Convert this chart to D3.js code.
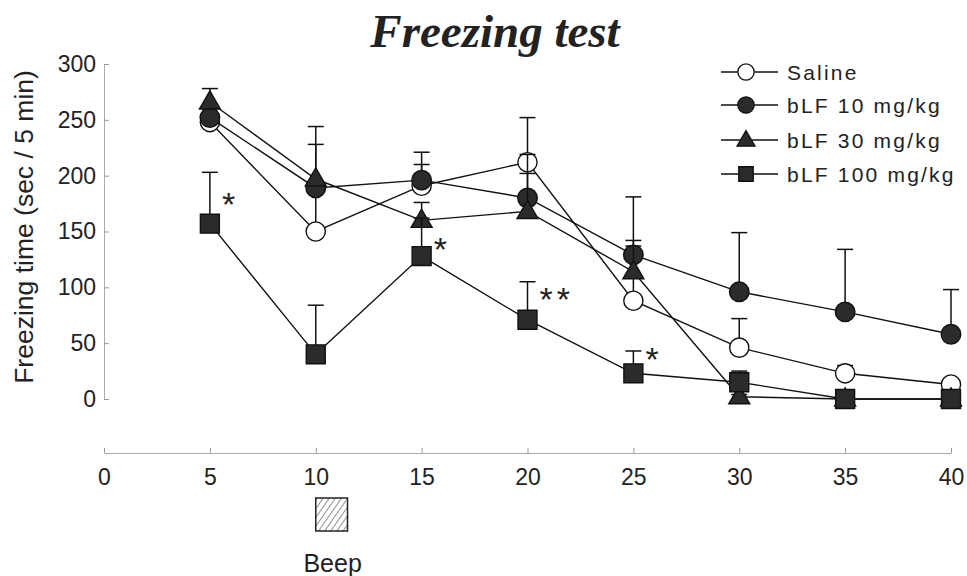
<!DOCTYPE html>
<html>
<head>
<meta charset="utf-8">
<script src="https://cdn.jsdelivr.net/npm/d3@7"></script>
<style>
  body { margin: 0; background: #fff; }
  svg { display: block; }
</style>
</head>
<body>
<div id="d3-container"></div>
<script>
/**
 * DATA
 * */
const times = [5, 10, 15, 20, 25, 30, 35, 40];

const salineMean = [248, 150, 191, 212, 88, 46, 23, 13];
const salineSem = [8, 78, 19, 40, 49, 26, 7, 0];

const bLF10Mean = [252, 189, 196, 180, 129, 96, 78, 58];
const bLF10Sem = [8, 6, 25, 22, 52, 53, 56, 40];

const bLF30Mean = [266, 197, 160, 168, 114, 2, 0, 0];
const bLF30Sem = [12, 47, 16, 51, 28, 2, 0, 0];

const bLF100Mean = [157, 40, 128, 71, 23, 15, 0, 0];
const bLF100Sem = [46, 44, 34, 34, 20, 10, 0, 0];

// significance marks for bLF 100 mg/kg, and the level (sec) each one sits at
const sigTimes = [5, 15, 20, 25];
const sigMarks = ["*", "*", "**", "*"];
const sigLevel = [178, 138, 93, 39];

const xTicks = [0, 5, 10, 15, 20, 25, 30, 35, 40];
const yTicks = [0, 50, 100, 150, 200, 250, 300];

const seriesNames = ["Saline", "bLF 10 mg/kg", "bLF 30 mg/kg", "bLF 100 mg/kg"];

// beep stimulus (min)
const beepStart = 10, beepEnd = 11.5;

/**
 * CONSTANTS AND GLOBALS
 * */
const width = 967,
  height = 576;

const series = [
  { name: seriesNames[0], mean: salineMean, sem: salineSem, shape: d3.symbolCircle, fill: "#fff", size: 290, lsize: 210 },
  { name: seriesNames[1], mean: bLF10Mean, sem: bLF10Sem, shape: d3.symbolCircle, fill: "#2b2b2b", size: 300, lsize: 210 },
  { name: seriesNames[2], mean: bLF30Mean, sem: bLF30Sem, shape: d3.symbolTriangle, fill: "#2b2b2b", size: 190, lsize: 140 },
  { name: seriesNames[3], mean: bLF100Mean, sem: bLF100Sem, shape: d3.symbolSquare, fill: "#2b2b2b", size: 360, lsize: 210 }
];

const x = d3.scaleLinear().domain([0, 40]).range([104, 951]);
const y = d3.scaleLinear().domain([0, 300]).range([399, 64]);

const svg = d3.select("#d3-container")
  .append("svg")
  .attr("width", width)
  .attr("height", height)
  .style("font-family", "'Liberation Sans', Arial, sans-serif");

// hatch for the beep box
svg.append("defs")
  .append("pattern")
  .attr("id", "hatch")
  .attr("patternUnits", "userSpaceOnUse")
  .attr("width", 5)
  .attr("height", 5)
  .attr("patternTransform", "rotate(35)")
  .append("line")
  .attr("x1", 0).attr("y1", 0)
  .attr("x2", 0).attr("y2", 5)
  .attr("stroke", "#444")
  .attr("stroke-width", 1.2);

// title
svg.append("text")
  .attr("x", 495)
  .attr("y", 47)
  .attr("text-anchor", "middle")
  .style("font-family", "'Liberation Serif', 'Times New Roman', serif")
  .style("font-weight", "bold")
  .style("font-style", "italic")
  .style("font-size", "47px")
  .attr("fill", "#222")
  .text("Freezing test");

/**
 * AXES
 * */
const yAxis = svg.append("g")
  .attr("transform", `translate(${x(0)},0)`)
  .call(d3.axisLeft(y).tickValues(yTicks).tickSize(-5).tickSizeOuter(0).tickPadding(8));

const xAxis = svg.append("g")
  .attr("transform", "translate(0,453)")
  .call(d3.axisBottom(x).tickValues(xTicks).tickSize(-5).tickSizeOuter(0).tickPadding(16));

[yAxis, xAxis].forEach(g => {
  g.select(".domain").attr("stroke", "#aaa").attr("stroke-width", 1);
  g.selectAll(".tick line").attr("stroke", "#999");
  g.selectAll(".tick text")
    .attr("fill", "#222")
    .style("font-size", "23px")
    .style("font-family", "'Liberation Sans', Arial, sans-serif");
});

svg.append("text")
  .attr("transform", "translate(33,227) rotate(-90)")
  .attr("text-anchor", "middle")
  .style("font-size", "26.5px")
  .attr("fill", "#222")
  .text("Freezing time (sec / 5 min)");

// beep marker
svg.append("rect")
  .attr("x", x(beepStart))
  .attr("y", 498)
  .attr("width", x(beepEnd) - x(beepStart))
  .attr("height", 33)
  .attr("fill", "url(#hatch)")
  .attr("stroke", "#222")
  .attr("stroke-width", 1.5);

svg.append("text")
  .attr("x", (x(beepStart) + x(beepEnd)) / 2 + 1)
  .attr("y", 572)
  .attr("text-anchor", "middle")
  .style("font-size", "25px")
  .attr("fill", "#222")
  .text("Beep");

/**
 * SERIES: error bars, lines, markers
 * */
const line = d3.line().x(d => x(d.t)).y(d => y(d.v));
const capW = 8;

series.forEach(s => {
  const pts = times.map((t, i) => ({ t: t, v: s.mean[i], e: s.mean[i] + s.sem[i] }));
  const g = svg.append("g");

  g.selectAll("line.err")
    .data(pts.filter(d => d.e > d.v))
    .join("line")
    .attr("class", "err")
    .attr("x1", d => x(d.t)).attr("x2", d => x(d.t))
    .attr("y1", d => y(d.v)).attr("y2", d => y(d.e))
    .attr("stroke", "#111").attr("stroke-width", 1.5);

  g.selectAll("line.cap")
    .data(pts.filter(d => d.e > d.v))
    .join("line")
    .attr("class", "cap")
    .attr("x1", d => x(d.t) - capW).attr("x2", d => x(d.t) + capW)
    .attr("y1", d => y(d.e)).attr("y2", d => y(d.e))
    .attr("stroke", "#111").attr("stroke-width", 1.5);

  g.append("path")
    .datum(pts)
    .attr("d", line)
    .attr("fill", "none")
    .attr("stroke", "#111")
    .attr("stroke-width", 1.4);

  g.selectAll("path.mark")
    .data(pts)
    .join("path")
    .attr("class", "mark")
    .attr("d", d3.symbol().type(s.shape).size(s.size))
    .attr("transform", d => `translate(${x(d.t)},${y(d.v) + (s.shape === d3.symbolTriangle ? 1 : 0)})`)
    .attr("fill", s.fill)
    .attr("stroke", "#111")
    .attr("stroke-width", 1.4);
});

// significance asterisks next to bLF 100 mg/kg
svg.selectAll("text.sig")
  .data(sigTimes.map((t, i) => ({ t: t, mark: sigMarks[i], v: sigLevel[i] })))
  .join("text")
  .attr("class", "sig")
  .attr("x", d => x(d.t) + 12)
  .attr("y", d => y(d.v) + 16)
  .style("font-size", "34px")
  .style("letter-spacing", "4px")
  .attr("fill", "#222")
  .text(d => d.mark);

/**
 * LEGEND
 * */
const legend = svg.append("g");
const legendY = [72, 105, 140, 174];

series.forEach((s, i) => {
  const row = legend.append("g").attr("transform", `translate(0,${legendY[i]})`);
  row.append("line")
    .attr("x1", 721).attr("x2", 778)
    .attr("stroke", "#111").attr("stroke-width", 1.4);
  row.append("path")
    .attr("d", d3.symbol().type(s.shape).size(s.lsize))
    .attr("transform", `translate(746,${s.shape === d3.symbolTriangle ? 1 : 0})`)
    .attr("fill", s.fill)
    .attr("stroke", "#111")
    .attr("stroke-width", 1.3);
  row.append("text")
    .attr("x", 787)
    .attr("y", 8)
    .style("font-size", "21px")
    .style("letter-spacing", "2.2px")
    .attr("fill", "#222")
    .text(s.name);
});
</script>
</body>
</html>
